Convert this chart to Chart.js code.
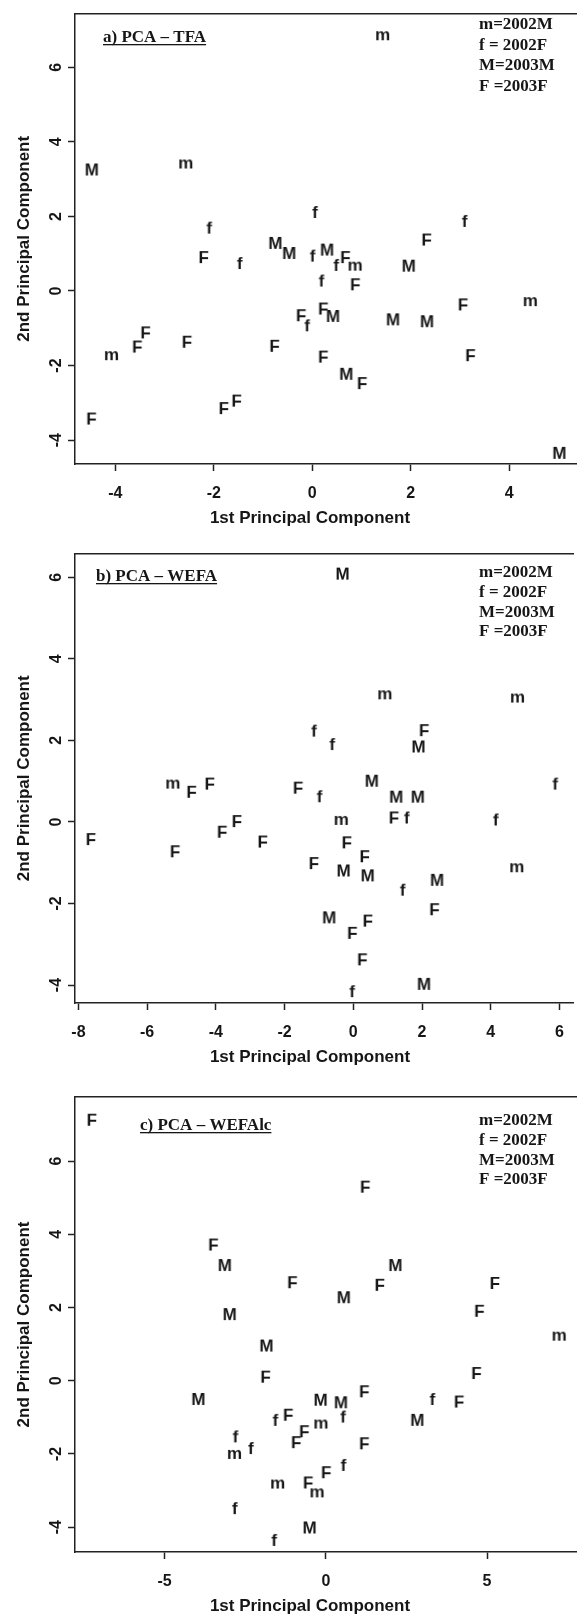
<!DOCTYPE html>
<html>
<head>
<meta charset="utf-8">
<script src="https://cdn.jsdelivr.net/npm/chart.js@4.4.1/dist/chart.umd.min.js"></script>
<style>
  html, body { margin: 0; padding: 0; background: #fff; }
  .panel { position: absolute; left: 0; width: 577px; }
  .panel canvas { display: block; }
</style>
</head>
<body>
<div class="panel" style="top:0;height:540px"><canvas id="chart-a" width="577" height="540"></canvas></div>
<div class="panel" style="top:540px;height:540px"><canvas id="chart-b" width="577" height="540"></canvas></div>
<div class="panel" style="top:1080px;height:534px"><canvas id="chart-c" width="577" height="534"></canvas></div>
<script>
// a) PCA - TFA
const tfaLabels = ['m','M','m','f','f','f','F','F','f','M','M','f','M','f','F','m','M','f','F','F',
  'm','F','M','F','f','M','M','F','F','F','m','F','F','F','M','F','F','F','F','M'];
const tfaX = [1.44,-4.47,-2.56,0.06,-2.09,3.10,2.33,-2.20,-1.47,-0.74,-0.46,0.01,0.31,0.49,0.68,0.88,1.97,0.19,0.88,3.07,
  4.44,0.23,0.43,-0.22,-0.10,1.65,2.34,-3.38,-3.55,-2.54,-4.07,-0.76,0.23,3.22,0.70,1.02,-1.53,-1.79,-4.48,5.03];
const tfaY = [6.86,3.26,3.42,2.12,1.70,1.88,1.38,0.91,0.75,1.29,1.02,0.95,1.11,0.70,0.91,0.68,0.68,0.28,0.18,-0.36,
  -0.27,-0.47,-0.67,-0.65,-0.92,-0.76,-0.81,-1.11,-1.49,-1.36,-1.72,-1.47,-1.76,-1.72,-2.22,-2.47,-2.94,-3.14,-3.42,-4.34];

// b) PCA - WEFA
const wefaLabels = ['M','m','m','f','f','F','M','m','F','F','F','f','M','M','M','f','F','f','f','m',
  'F','F','F','F','F','F','F','F','M','M','m','M','f','F','M','F','F','F','M','f'];
const wefaX = [-0.30,0.93,4.79,-1.14,-0.61,2.07,1.91,-5.24,-4.70,-4.17,-1.60,-0.98,0.55,1.26,1.89,5.88,1.19,1.56,4.15,-0.34,
  -3.38,-3.81,-7.63,-2.63,-5.18,-0.18,0.34,-1.14,-0.27,0.43,4.77,2.45,1.44,2.37,-0.69,0.43,-0.02,0.27,2.07,-0.03];
const wefaY = [6.09,3.13,3.05,2.24,1.91,2.25,1.85,0.94,0.74,0.94,0.84,0.63,1.01,0.62,0.62,0.94,0.11,0.11,0.06,0.05,
  0.02,-0.24,-0.42,-0.48,-0.72,-0.50,-0.84,-1.01,-1.19,-1.31,-1.11,-1.42,-1.66,-2.14,-2.34,-2.42,-2.72,-3.37,-3.97,-4.15];

// c) PCA - WEFAlc
const wefalcLabels = ['F','F','F','M','M','F','F','F','M','M','F','m','M','F','F','M','M','M','F','f',
  'F','M','f','F','f','m','F','F','f','m','f','F','f','F','m','F','m','f','M','f'];
const wefalcX = [-7.25,1.23,-3.48,-3.12,2.17,-1.03,1.68,5.25,0.57,-2.97,4.77,7.25,-1.83,-1.86,4.68,-3.94,-0.15,0.48,1.20,3.31,
  4.14,2.85,-1.56,-1.16,0.54,-0.14,-0.66,-0.91,-2.80,-2.82,-2.32,1.20,0.55,0.02,-1.48,-0.54,-0.26,-2.82,-0.49,-1.60];
const wefalcY = [7.13,5.30,3.72,3.16,3.16,2.69,2.62,2.67,2.28,1.82,1.91,1.23,0.96,0.11,0.21,-0.50,-0.52,-0.59,-0.29,-0.50,
  -0.57,-1.07,-1.07,-0.93,-0.98,-1.17,-1.38,-1.68,-1.52,-2.00,-1.84,-1.71,-2.30,-2.50,-2.81,-2.78,-3.05,-3.48,-4.01,-4.35];

const legendLines = ['m=2002M', 'f = 2002F', 'M=2003M', 'F =2003F'];

const ink = '#161616';
const sans = '"Liberation Sans", Arial, Helvetica, sans-serif';
const serif = '"Liberation Serif", "Times New Roman", serif';

// one small canvas per letter, used as the point style
function makeGlyph(letter) {
  const c = document.createElement('canvas');
  c.width = 22;
  c.height = 22;
  const g = c.getContext('2d');
  g.font = `bold 17px ${sans}`;
  const m = g.measureText(letter);
  const w = m.actualBoundingBoxLeft + m.actualBoundingBoxRight;
  const h = m.actualBoundingBoxAscent + m.actualBoundingBoxDescent;
  g.fillStyle = ink;
  g.fillText(letter, 11 - w / 2 + m.actualBoundingBoxLeft, 11 + h / 2 - m.actualBoundingBoxDescent);
  return c;
}
const glyphs = {};
['m', 'f', 'M', 'F'].forEach((l) => { glyphs[l] = makeGlyph(l); });

const panelText = {
  id: 'panelText',
  afterDraw(chart, args, opts) {
    const { ctx, chartArea } = chart;
    ctx.save();
    ctx.fillStyle = ink;
    ctx.textBaseline = 'middle';
    ctx.textAlign = 'left';
    ctx.font = `bold 17px ${serif}`;
    ctx.fillText(opts.title, opts.titleX, opts.titleY);
    const tw = ctx.measureText(opts.title).width;
    ctx.fillRect(opts.titleX, opts.titleY + 6, tw, 1.3);
    legendLines.forEach((line, i) => {
      ctx.fillText(line, opts.legendX, opts.legendY + i * opts.legendStep);
    });
    ctx.font = `bold 17px ${sans}`;
    ctx.textAlign = 'center';
    ctx.fillText('1st Principal Component', chartArea.left + 235, chartArea.bottom + 54);
    ctx.restore();
  },
};

function buildChart(id, cfg) {
  const canvas = document.getElementById(id);
  const tickFont = { family: sans, size: 16, weight: 'bold' };
  const axisLine = { display: true, color: '#222', width: 1.5 };
  const tickMarks = { display: true, drawOnChartArea: false, drawTicks: true, tickLength: 7, tickColor: '#222', tickWidth: 1.5 };
  return new Chart(canvas, {
    type: 'scatter',
    data: {
      datasets: [{
        data: cfg.x.map((x, i) => ({ x, y: cfg.y[i] })),
        pointStyle: (ctx) => glyphs[cfg.labels[ctx.dataIndex]],
        pointRadius: 5,
        clip: false,
      }],
    },
    options: {
      responsive: false,
      animation: false,
      events: [],
      layout: { padding: 0, autoPadding: false },
      plugins: {
        legend: { display: false },
        tooltip: { enabled: false },
        panelText: cfg.text,
      },
      scales: {
        x: {
          type: 'linear',
          position: 'bottom',
          min: cfg.xMin,
          max: cfg.xMax,
          afterFit: (s) => { s.height = canvas.height - cfg.bottom; },
          border: axisLine,
          grid: tickMarks,
          ticks: {
            stepSize: cfg.xStep, includeBounds: false, padding: 13, maxRotation: 0,
            font: tickFont, color: ink, callback: (v) => String(v),
          },
        },
        top: {
          type: 'linear',
          position: 'top',
          min: 0,
          max: 1,
          afterFit: (s) => { s.height = cfg.top; },
          border: axisLine,
          grid: { display: false },
          ticks: { display: false },
        },
        y: {
          type: 'linear',
          position: 'left',
          min: cfg.yMin,
          max: cfg.yMax,
          afterFit: (s) => { s.width = 75; },
          border: axisLine,
          grid: tickMarks,
          ticks: {
            stepSize: 2, includeBounds: false, minRotation: 90, maxRotation: 90, crossAlign: 'center', padding: 4,
            font: tickFont, color: ink, callback: (v) => String(v),
          },
          title: {
            display: true,
            text: '2nd Principal Component',
            color: ink,
            font: { family: sans, size: 17, weight: 'bold' },
            padding: { top: 14, bottom: 0 },
          },
        },
      },
    },
    plugins: [panelText],
  });
}

buildChart('chart-a', {
  labels: tfaLabels, x: tfaX, y: tfaY,
  xMin: -4.82, xMax: 5.38, xStep: 2, yMin: -4.64, yMax: 7.44,
  top: 11, bottom: 464,
  text: { title: 'a) PCA \u2013 TFA', titleX: 103, titleY: 38, legendX: 479, legendY: 25, legendStep: 20.5 },
});

buildChart('chart-b', {
  labels: wefaLabels, x: wefaX, y: wefaY,
  xMin: -8.1, xMax: 6.42, xStep: 2, yMin: -4.44, yMax: 6.58,
  top: 10, bottom: 463,
  text: { title: 'b) PCA \u2013 WEFA', titleX: 96, titleY: 37, legendX: 479, legendY: 33, legendStep: 19.7 },
});

buildChart('chart-c', {
  labels: wefalcLabels, x: wefalcX, y: wefalcY,
  xMin: -7.78, xMax: 7.79, xStep: 5, yMin: -4.68, yMax: 7.75,
  top: 17, bottom: 472,
  text: { title: 'c) PCA \u2013 WEFAlc', titleX: 140, titleY: 46, legendX: 479, legendY: 41, legendStep: 19.7 },
});
</script>
</body>
</html>
